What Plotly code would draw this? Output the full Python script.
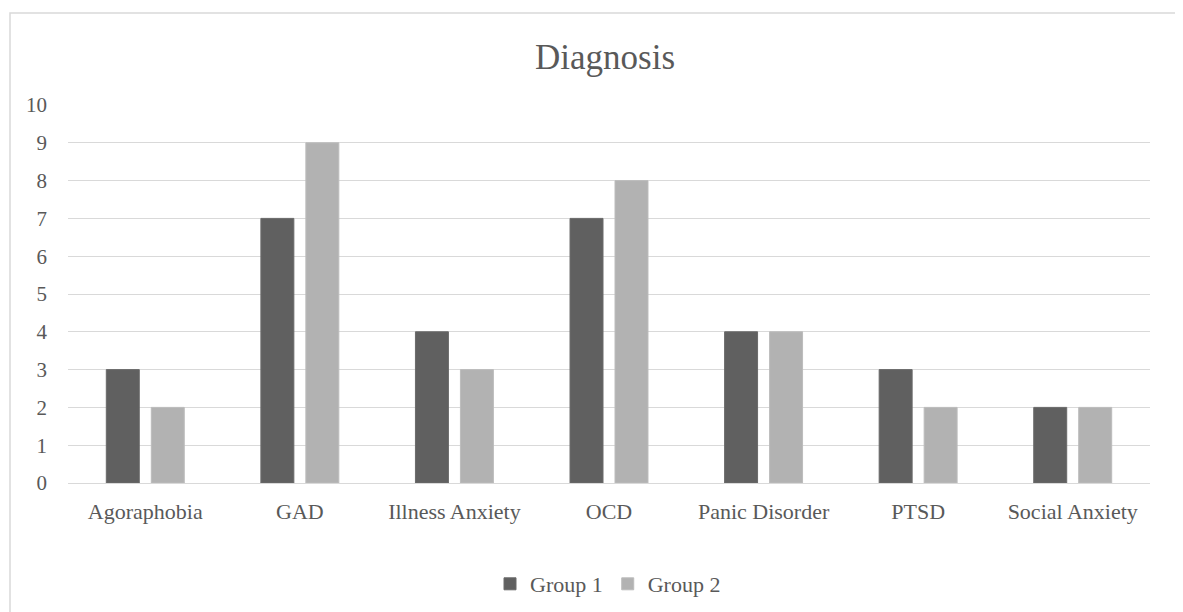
import plotly.graph_objects as go

categories = ["Agoraphobia", "GAD", "Illness Anxiety", "OCD", "Panic Disorder", "PTSD", "Social Anxiety"]
group1 = [3, 7, 4, 7, 4, 3, 2]
group2 = [2, 9, 3, 8, 4, 2, 2]

FONT = "Liberation Serif, Times New Roman, serif"

fig = go.Figure()
fig.add_trace(go.Bar(name="Group 1", x=categories, y=group1, marker=dict(color="#606060", line=dict(color="#6a6a6a", width=1))))
fig.add_trace(go.Bar(name="Group 2", x=categories, y=group2, marker=dict(color="#b2b2b2", line=dict(color="#bcbcbc", width=1))))

# page body has an 8px margin; the figure is sized so the plot lands where the reference has it
OFF = 8
W, H = 1183 - OFF, 612 - OFF
L, T = 68 - OFF, 105 - OFF
R = W - (1150 - OFF)
B = H - (483 - OFF)
pw = W - L - R
ph = H - T - B

fig.update_layout(
    width=W, height=H,
    margin=dict(l=L, r=R, t=T, b=B, pad=0, autoexpand=False),
    paper_bgcolor="white", plot_bgcolor="white",
    barmode="group", bargap=0.418, bargroupgap=0.267,
    font=dict(family=FONT, size=22, color="#595959"),
    title=dict(text="Diagnosis", x=(605 - OFF - L) / pw, xref="paper", xanchor="center",
               y=1 - (57 - OFF) / H, yanchor="middle",
               font=dict(family=FONT, size=35, color="#595959")),
    legend=dict(orientation="h", x=(608 - OFF - L) / pw, xanchor="center",
                yref="container", y=(H - (584 - OFF)) / H, yanchor="middle",
                font=dict(family=FONT, size=22, color="#595959"), itemwidth=30, traceorder="normal"),
    xaxis=dict(showgrid=False, showline=False, ticks="", ticklabelstandoff=13, tickfont=dict(size=22),
               automargin=False),
    yaxis=dict(range=[0, 10], dtick=1, showgrid=True, gridcolor="#d9d9d9", gridwidth=1,
               zeroline=True, zerolinecolor="#d9d9d9", zerolinewidth=1, showline=False,
               ticks="", ticklabelstandoff=20, tickfont=dict(size=21), automargin=False),
    shapes=[dict(type="rect", xref="paper", yref="paper",
                 x0=(10 - OFF - L) / pw, x1=(W + 20 - L) / pw,
                 y0=-(H + 20 - (H - B)) / ph, y1=(H - B - (13 - OFF)) / ph,
                 line=dict(color="#d9d9d9", width=1.5), fillcolor="rgba(0,0,0,0)", layer="below")],
)

fig.write_html("out.html")
